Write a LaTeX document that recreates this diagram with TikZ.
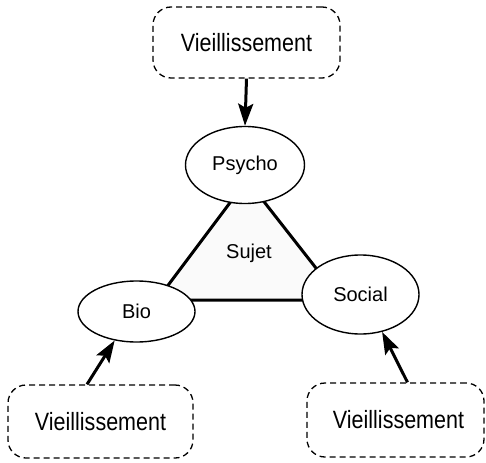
\documentclass[tikz,border=0pt]{standalone}
\usepackage{fontspec}
\setmainfont{Liberation Sans}
\newfontfamily\narrowf[FakeStretch=0.86]{Liberation Sans}
\usetikzlibrary{arrows.meta,shapes.geometric}
\tikzset{
  agebox/.style={draw, line width=1.3pt, dash pattern=on 6pt off 4pt, rounded corners=18pt, inner sep=0pt, font=\narrowf\fontsize{25}{29}\selectfont},
  facet/.style={ellipse, draw, line width=1.4pt, fill=white, inner sep=0pt, font=\fontsize{20}{24}\selectfont},
  agearrow/.style={line width=3pt, -{Stealth[length=22pt,width=15pt,inset=4pt]}},
  tri/.style={line width=3pt, fill=black!2, line join=miter}
}
\begin{document}
\begin{tikzpicture}[x=1pt,y=-1pt]
\useasboundingbox (0,0) rectangle (486,462);
% triangle behind the ellipses
\coordinate (ta) at (247,180);
\coordinate (tl) at (157,300);
\coordinate (tr) at (341,300);
\draw[tri] (ta) -- (tl) -- (tr) -- cycle;
\node[font=\fontsize{20}{24}\selectfont] (sujet) at (249,253) {Sujet};
% facets
\node[facet, minimum width=119pt, minimum height=77pt] (psycho) at (245,165) {Psycho};
\node[facet, minimum width=117pt, minimum height=61pt] (bio) at (136.5,311.5) {Bio};
\node[facet, minimum width=117pt, minimum height=79pt] (social) at (360.5,294.5) {Social};
% ageing boxes
\node[agebox, minimum width=187pt, minimum height=71pt] (vtop) at (246.5,42.5) {Vieillissement};
\node[agebox, minimum width=185pt, minimum height=73pt] (vleft) at (100.5,421.5) {Vieillissement};
\node[agebox, minimum width=177pt, minimum height=74pt] (vright) at (395.5,420) {\hspace*{6pt}Vieillissement};
% arrows
\draw[agearrow] (vtop.south) -- (psycho.north);
\draw[agearrow] ([xshift=-13.5pt]vleft.north) -- (bio.233);
\draw[agearrow] ([xshift=12pt]vright.north) -- (social.300);
\end{tikzpicture}
\end{document}
